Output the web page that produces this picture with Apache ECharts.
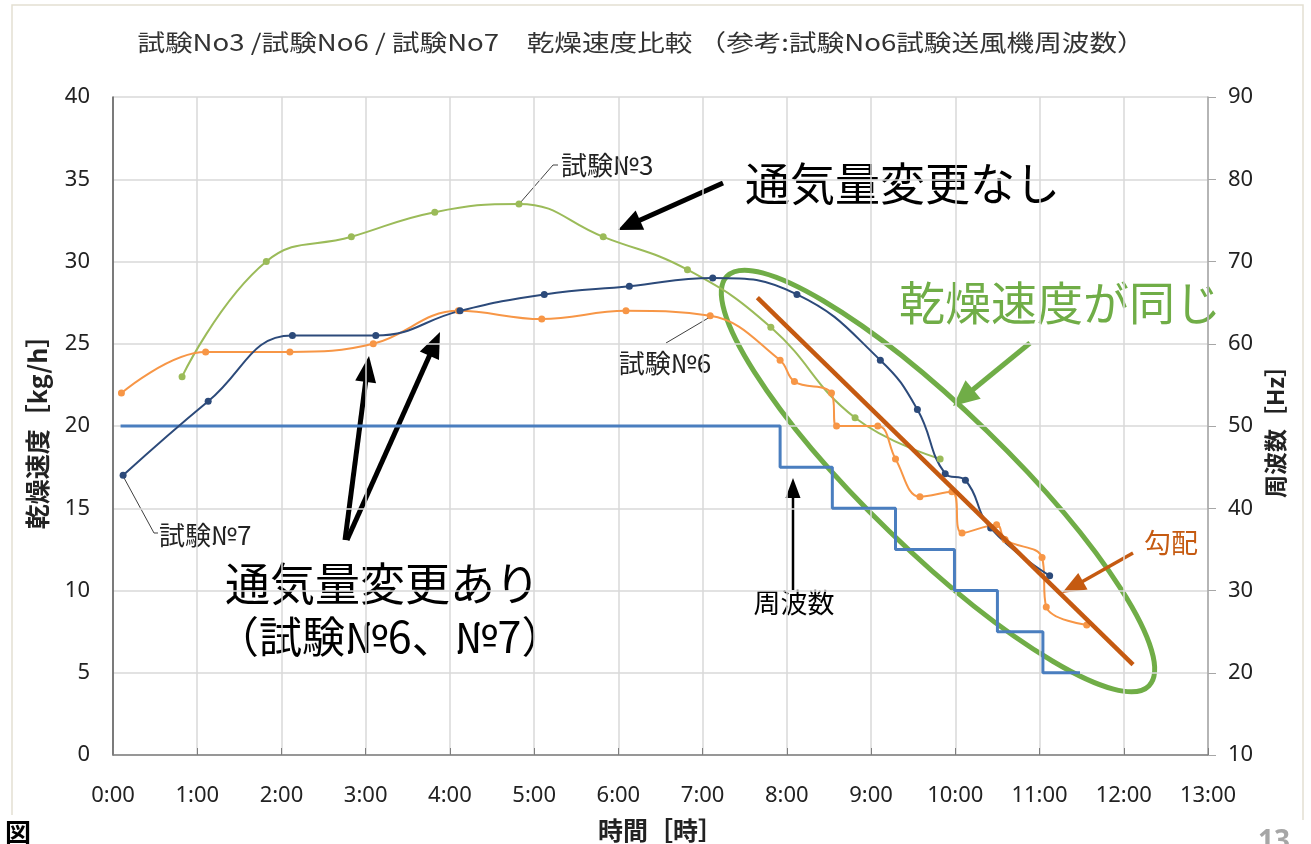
<!DOCTYPE html>
<html>
<head>
<meta charset="utf-8">
<script src="https://cdn.jsdelivr.net/npm/echarts@6/dist/echarts.min.js"></script>
<style>
html,body{margin:0;padding:0;background:#fff;}
#chart{width:1311px;height:844px;}
</style>
</head>
<body>
<div id="chart"></div>
<script>
// ---- data (hours, value) ----
var test3 = [[0.82,23.0],[1.82,30.0],[2.83,31.5],[3.82,33.0],[4.82,33.5],[5.82,31.5],[6.82,29.5],[7.81,26.0],[8.81,20.5],[9.82,18.0]];
var test6 = [[0.10,22.0],[1.10,24.5],[2.10,24.5],[3.09,25.0],[4.10,27.0],[5.09,26.5],[6.09,27.0],[7.09,26.7],[7.92,24.0],[8.09,22.7],[8.53,22.0],[8.59,20.0],[9.08,20.0],[9.29,18.0],[9.58,15.7],[9.96,16.0],[10.08,13.5],[10.49,14.0],[10.59,13.1],[11.03,12.0],[11.08,9.0],[11.56,7.9]];
var test7 = [[0.12,17.0],[1.13,21.5],[2.13,25.5],[3.12,25.5],[4.12,27.0],[5.12,28.0],[6.13,28.5],[7.12,29.0],[8.12,28.0],[9.11,24.0],[9.55,21.0],[9.88,17.1],[10.12,16.7],[10.42,13.8],[11.12,10.9]];
var freq6 = [[0.09,50],[7.92,45],[8.54,40],[9.29,35],[9.99,30],[10.50,25],[11.04,20],[11.48,20]];
var slope = [[7.65,27.8],[12.11,5.5]];
var xTicks = ['0:00','1:00','2:00','3:00','4:00','5:00','6:00','7:00','8:00','9:00','10:00','11:00','12:00','13:00'];

var JP = '"Noto Sans CJK JP", "Noto Sans", sans-serif';
var chart = echarts.init(document.getElementById('chart'), null, {renderer:'canvas'});

function arrow(x1,y1,x2,y2,color,w,hl,hw){
  var dx=x2-x1, dy=y2-y1, L=Math.sqrt(dx*dx+dy*dy), ux=dx/L, uy=dy/L, nx=-uy, ny=ux;
  var bx=x2-ux*hl, by=y2-uy*hl;
  return {type:'group', children:[
    {type:'line', shape:{x1:x1,y1:y1,x2:bx+ux*2,y2:by+uy*2}, style:{stroke:color,lineWidth:w}},
    {type:'polygon', shape:{points:[[x2,y2],[bx+nx*hw/2,by+ny*hw/2],[bx-nx*hw/2,by-ny*hw/2]]}, style:{fill:color}}
  ]};
}
function txt(x,y,s,size,color,align,bold,sx){
  return {type:'text', x:x, y:y, scaleX:sx||1, style:{text:s, fontSize:size, fill:color, fontFamily:JP, textAlign:align||'left', textVerticalAlign:'middle', fontWeight:bold?'bold':'normal'}};
}
function leader(pts){
  return {type:'polyline', shape:{points:pts}, style:{stroke:'#404040', lineWidth:1, fill:null}};
}

var graphics = [
  // slide frame
  {type:'polyline', shape:{points:[[12,815],[12,5],[1303,5],[1303,820]]}, style:{stroke:'#E4E0D2', lineWidth:1.5, fill:null}},
  txt(641,42,'試験No3 /試験No6 / 試験No7　乾燥速度比較 （参考:試験No6試験送風機周波数）',23,'#333','center',false,1.2),
  // series labels
  leader([[520,203],[553,165],[558,165]]), txt(561,165,'試験№3',26,'#222'),
  leader([[710,317],[666,343]]), txt(665,363,'試験№6',26,'#222','center'),
  leader([[123,476],[154,533],[158,533]]), txt(159,535,'試験№7',26,'#222'),
  // big annotations
  txt(745,184,'通気量変更なし',45,'#000'),
  arrow(723,183,618,230,'#000',5,24,21),
  txt(225,584,'通気量変更あり',45,'#000'),
  txt(216,637,'（試験№6、№7）',43,'#000'),
  arrow(345,540,369,356,'#000',5,26,21),
  arrow(347,540,440,332,'#000',5,26,21),
  {type:'ellipse', x:938, y:481, rotation:-0.77, shape:{cx:0,cy:0,rx:294,ry:70}, style:{fill:null, stroke:'#70AD47', lineWidth:5}},
  txt(899,303,'乾燥速度が同じ',46,'#70AD47'),
  arrow(1030,343,953,406,'#70AD47',5,26,24),
  txt(794,603,'周波数',27,'#000','center'),
  arrow(793,590,793,478,'#000',2.5,20,15),
  txt(1144,543,'勾配',27,'#C55A11'),
  arrow(1133,553,1062,593,'#C55A11',3.5,24,19),
  txt(5,832,'図',26,'#000','left',true),
  {type:'text', x:1258, y:828, style:{text:'13', fontSize:28, fill:'#A6A6A6', fontFamily:'"Noto Sans", sans-serif', fontWeight:'bold'}}
];

var labelStyle = {color:'#222', fontSize:22, fontFamily:'"Noto Sans", sans-serif'};
var option = {
  animation:false,
  backgroundColor:'#fff',
  grid:{left:113, right:103, top:97, bottom:89, containLabel:false, outerBoundsMode:'none'},
  xAxis:{
    type:'value', min:0, max:13, interval:1,
    name:'時間［時］', nameLocation:'middle', nameGap:63,
    nameTextStyle:{fontSize:25, fontWeight:'bold', color:'#222', fontFamily:JP},
    axisLine:{show:true, lineStyle:{color:'#7F7F7F', width:1.5}},
    axisTick:{show:true, inside:true, length:7, lineStyle:{color:'#7F7F7F'}},
    axisLabel:Object.assign({margin:30, formatter:function(v){return xTicks[Math.round(v)];}}, labelStyle),
    splitLine:{show:true, lineStyle:{color:'#D9D9D9', width:1.5}}
  },
  yAxis:[{
    type:'value', min:0, max:40, interval:5,
    name:'乾燥速度［kg/h］', nameLocation:'middle', nameGap:63, nameRotate:90,
    nameTextStyle:{fontSize:25, fontWeight:'bold', color:'#222', fontFamily:JP},
    axisLine:{show:true, lineStyle:{color:'#595959', width:1.5}},
    axisTick:{show:false},
    axisLabel:Object.assign({margin:23}, labelStyle),
    splitLine:{show:true, lineStyle:{color:'#D9D9D9', width:1.5}}
  },{
    type:'value', min:10, max:90, interval:10, position:'right',
    name:'周波数［Hz］', nameLocation:'middle', nameGap:55, nameRotate:90,
    nameTextStyle:{fontSize:23, fontWeight:'bold', color:'#222', fontFamily:JP},
    axisLine:{show:true, lineStyle:{color:'#A6A6A6', width:1.5}},
    axisTick:{show:true, length:8, lineStyle:{color:'#A6A6A6'}},
    axisLabel:Object.assign({margin:20}, labelStyle),
    splitLine:{show:false}
  }],
  series:[
    {name:'周波数', type:'line', yAxisIndex:1, step:'end', data:freq6, symbol:'none', lineStyle:{color:'#4A7EBF', width:3}, itemStyle:{color:'#4A7EBF'}},
    {name:'試験No3', type:'line', data:test3, smooth:0.45, symbol:'circle', symbolSize:7, lineStyle:{color:'#9BBB59', width:2}, itemStyle:{color:'#9BBB59'}},
    {name:'試験No6', type:'line', data:test6, smooth:0.4, symbol:'circle', symbolSize:7, lineStyle:{color:'#F79646', width:2}, itemStyle:{color:'#F79646'}},
    {name:'試験No7', type:'line', data:test7, smooth:0.45, symbol:'circle', symbolSize:7, lineStyle:{color:'#2C4A7A', width:2}, itemStyle:{color:'#2C4A7A'}},
    {name:'勾配', type:'line', data:slope, symbol:'none', lineStyle:{color:'#C55A11', width:4.5}, z:5}
  ],
  graphic:graphics
};
chart.setOption(option);
</script>
</body>
</html>
